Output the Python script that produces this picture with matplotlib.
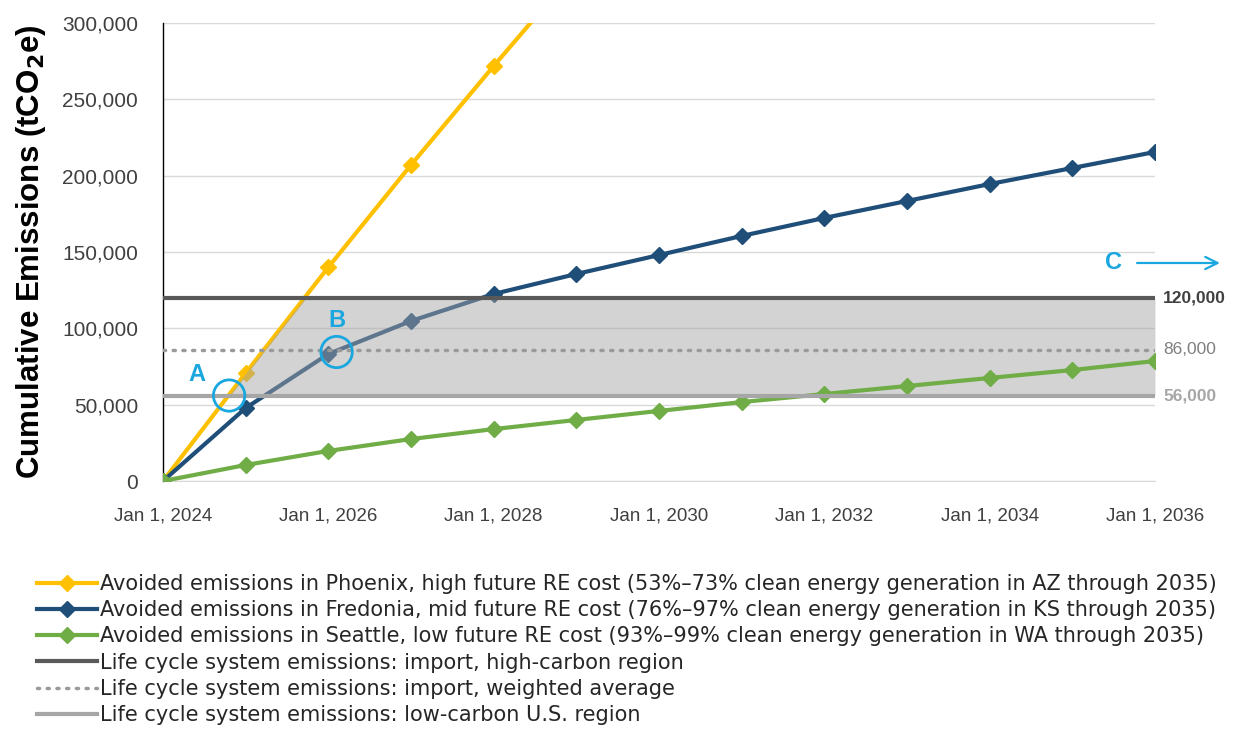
import matplotlib
matplotlib.use("Agg")
import matplotlib.pyplot as plt
from matplotlib.patches import Ellipse
import numpy as np

# ---- data ----
years = [2024, 2025, 2026, 2027, 2028, 2029, 2030, 2031, 2032, 2033, 2034, 2035, 2036]
phoenix = [0, 70700, 140000, 207000, 271800, 335000]
fredonia = [0, 47800, 83200, 104800, 122500, 135600, 148000, 160500, 172300, 183400, 194500, 205000, 215500]
seattle = [0, 10500, 19700, 27500, 34000, 40000, 45900, 51700, 57000, 62200, 67500, 72700, 78600]
ref_levels = [120000, 86000, 56000]
ref_labels = ["120,000", "86,000", "56,000"]
xtick_years = [2024, 2026, 2028, 2030, 2032, 2034, 2036]
xtick_labels = ["Jan 1, " + str(y) for y in xtick_years]
yticks = [0, 50000, 100000, 150000, 200000, 250000, 300000]
legend_labels = [
    "Avoided emissions in Phoenix, high future RE cost (53%\u201373% clean energy generation in AZ through 2035)",
    "Avoided emissions in Fredonia, mid future RE cost (76%\u201397% clean energy generation in KS through 2035)",
    "Avoided emissions in Seattle, low future RE cost (93%\u201399% clean energy generation in WA through 2035)",
    "Life cycle system emissions: import, high-carbon region",
    "Life cycle system emissions: import, weighted average",
    "Life cycle system emissions: low-carbon U.S. region",
]

c_phx = "#ffc000"
c_fre = "#1f4e79"
c_sea = "#70ad47"
c_hi = "#595959"
c_avg = "#9a9a9a"
c_lo = "#a6a6a6"
c_ann = "#1aa7e0"

plt.rcParams['font.family'] = ['Liberation Sans', 'DejaVu Sans']

fig = plt.figure(figsize=(12.33, 7.46), dpi=100)
ax = fig.add_axes([0.1322, 0.3552, 0.8045, 0.614])

ax.set_xlim(2024, 2036)
ax.set_ylim(0, 300000)

# gridlines
ax.set_yticks(yticks)
ax.yaxis.grid(True, color="#d9d9d9", linewidth=1)
ax.set_axisbelow(True)

mk = dict(marker="D", markersize=8, linewidth=3)
l_phx, = ax.plot(years[:len(phoenix)], phoenix, color=c_phx, zorder=3, **mk)
l_fre, = ax.plot(years, fredonia, color=c_fre, zorder=3, **mk)

# shaded band between the low and high reference lines, right of the Phoenix line
yy = np.linspace(ref_levels[2], ref_levels[0], 50)
x_left = np.interp(yy, phoenix, years[:len(phoenix)])
ax.fill_betweenx(yy, x_left, 2036, color="#a3a3a3", alpha=0.48, linewidth=0, zorder=4)

l_sea, = ax.plot(years, seattle, color=c_sea, zorder=5, **mk)

l_hi = ax.axhline(ref_levels[0], color=c_hi, linewidth=3, zorder=6)
l_avg = ax.axhline(ref_levels[1], color=c_avg, linewidth=2.5, linestyle=(0, (0.6, 2.2)),
                   dash_capstyle="round", zorder=6)
l_lo = ax.axhline(ref_levels[2], color=c_lo, linewidth=3, zorder=6)

# right-side labels for the reference lines
lab_style = [("bold", "#404040"), ("normal", "#7f7f7f"), ("bold", "#a6a6a6")]
for lv, txt, (fw, col) in zip(ref_levels, ref_labels, lab_style):
    ax.annotate(txt, xy=(1, lv), xycoords=("axes fraction", "data"),
                xytext=(6, 0), textcoords="offset points", va="center",
                fontsize=12.5, fontweight=fw, color=col)

# annotations A, B, C
for cx, cy in [(2024.8, 56000), (2026.1, 84500)]:
    circ = Ellipse((cx, cy), width=0.38, height=20500, fill=False,
                   edgecolor=c_ann, linewidth=2, zorder=8)
    ax.add_patch(circ)
ax.text(2024.41, 70000, "A", color=c_ann, fontsize=17, fontweight="bold",
        ha="center", va="center", zorder=8)
ax.text(2026.1, 105000, "B", color=c_ann, fontsize=17, fontweight="bold",
        ha="center", va="center", zorder=8)
ax.text(2035.5, 142800, "C", color=c_ann, fontsize=17, fontweight="bold",
        ha="center", va="center", zorder=8, clip_on=False)
ax.annotate("", xy=(2036.82, 142800), xytext=(2035.75, 142800),
            arrowprops=dict(arrowstyle="->", color=c_ann, lw=1.6, mutation_scale=22),
            annotation_clip=False)

# axes styling
ax.set_xticks(xtick_years)
ax.set_xticklabels(xtick_labels, fontsize=13.5)
ax.set_yticklabels([f"{v:,}" for v in yticks], fontsize=15)
ax.tick_params(axis="both", length=0, labelcolor="#404040")
ax.tick_params(axis="x", pad=19)
ax.tick_params(axis="y", pad=18)
for s in ["top", "right"]:
    ax.spines[s].set_visible(False)
ax.spines["bottom"].set_color("#d9d9d9")
ax.spines["left"].set_color("#000000")
ax.spines["left"].set_linewidth(1)
ax.set_ylabel("Cumulative Emissions (tCO$_\\mathbf{2}$e)", fontsize=22.5, fontweight="bold",
              labelpad=10)

handles = [l_phx, l_fre, l_sea, l_hi, l_avg, l_lo]
fig.legend(handles, legend_labels, loc="upper left", bbox_to_anchor=(0.023, 0.242),
           frameon=False, prop={"family": "DejaVu Sans", "size": 15},
           handlelength=2.9, handletextpad=0.15,
           labelspacing=0.3, labelcolor="#262626", borderaxespad=0)

fig.savefig("out.png", dpi=100)
